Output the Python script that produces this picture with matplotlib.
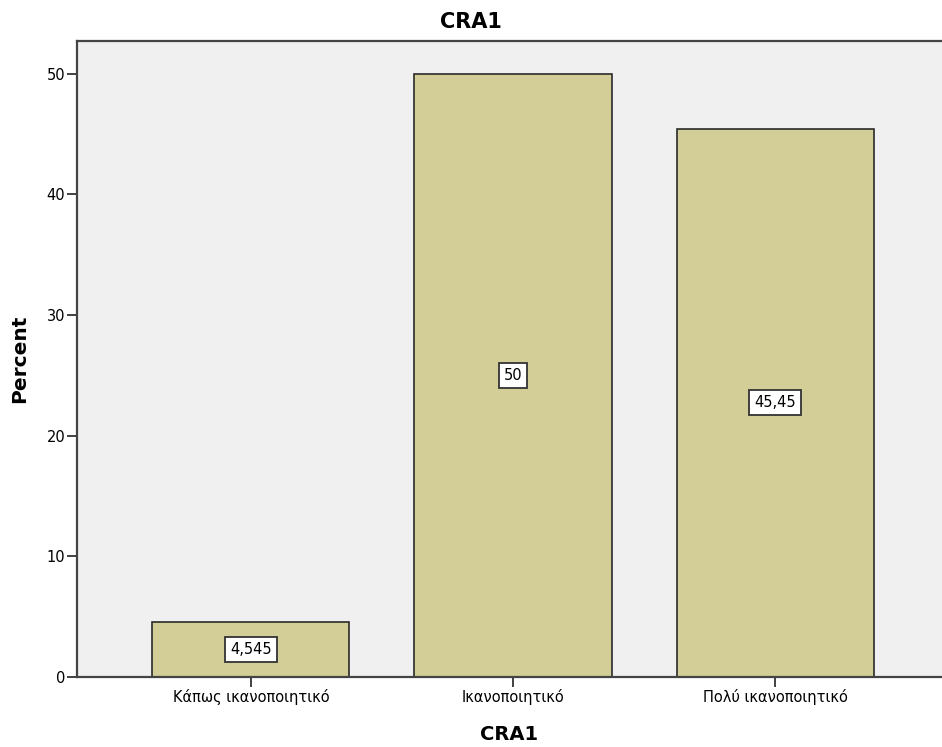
import matplotlib
matplotlib.use('agg')
import matplotlib.pyplot as plt

plt.rcParams['font.family'] = ['DejaVu Sans']

categories = ['Κάπως ικανοποιητικό', 'Ικανοποιητικό', 'Πολύ ικανοποιητικό']
percent = [4.545, 50, 45.45]
value_labels = ['4,545', '50', '45,45']
yticks = [0, 10, 20, 30, 40, 50]

fig = plt.figure(figsize=(9.42, 7.47), dpi=100)
ax = fig.add_axes([0.0817, 0.0937, 0.9183, 0.8513])
ax.set_facecolor('#f0f0f0')

x = list(range(len(categories)))
ax.bar(x, percent, width=0.752, color='#d3ce98', edgecolor='#2a2a2a', linewidth=1.2, zorder=2)

# value boxes in the middle of each bar
for xi, v, lab in zip(x, percent, value_labels):
    ax.text(xi, v / 2, lab, ha='center', va='center', fontsize=10.5, zorder=3,
            bbox=dict(boxstyle='square,pad=0.33', facecolor='white', edgecolor='#333333', linewidth=1.3))

ax.set_xlim(-0.664, 2.637)
ax.set_ylim(0, 52.7)
ax.set_xticks(x)
ax.set_xticklabels(categories, fontsize=10.5)
ax.set_yticks(yticks)
ax.set_yticklabels([str(t) for t in yticks], fontsize=10.5)
ax.tick_params(direction='out', length=7, width=1.3, color='#333333', pad=1.5)

for side in ['left', 'bottom', 'top']:
    ax.spines[side].set_color('#444444')
    ax.spines[side].set_linewidth(1.6)
ax.spines['right'].set_visible(False)

# title sits over the whole figure, axis labels over the axes
fig.text(0.5, 1 - 21.5 / 747, 'CRA1', ha='center', va='center', fontsize=15, fontweight='bold')
ax.set_xlabel('CRA1', fontsize=14, fontweight='bold')
ax.xaxis.set_label_coords(0.5, -(735 - 677) / 636, transform=ax.transAxes)
ax.xaxis.label.set_va('center')
ax.set_ylabel('Percent', fontsize=14.5, fontweight='bold')
ax.yaxis.set_label_coords(-(77 - 20) / 865, 0.5, transform=ax.transAxes)
ax.yaxis.label.set_va('center')

plt.savefig('out.png', dpi=100)
